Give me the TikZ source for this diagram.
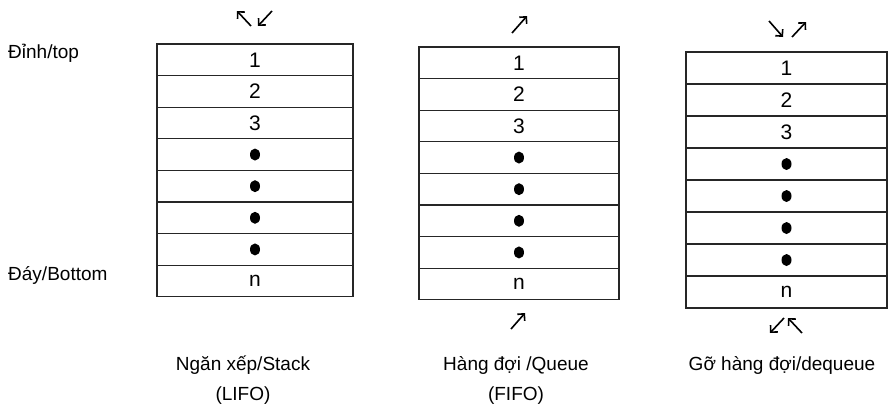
\documentclass[tikz,border=0pt]{standalone}
\usepackage{fontspec}
\setmainfont{Liberation Sans}
\usetikzlibrary{arrows.meta}
\begin{document}
\begin{tikzpicture}[x=1pt,y=-1pt,
  cell/.style={draw=black!85, line width=1.3pt, inner sep=0pt,
    font=\fontsize{21}{24}\selectfont},
  sidelabel/.style={anchor=west, inner sep=0pt, font=\fontsize{19}{22}\selectfont},
  caption/.style={align=center, inner sep=0pt, font=\fontsize{19}{30}\selectfont},
  glyph/.style={line width=1.6pt, -{Straight Barb[angle=90:7pt]}},
  bullet/.style={fill=black}]
\useasboundingbox (0,0) rectangle (889,418);

% three columns of eight cells each: id / centre x / top y / width / row height
\foreach \s/\cx/\top/\w/\h in {1/255/44/196/31.6, 2/519/47/200/31.6, 3/786.5/52/201/32}{
  \foreach \lab [count=\i] in {1,2,3,{},{},{},{},n}{
    \node[cell, minimum width=\w pt, minimum height=\h pt] (s\s r\i)
      at (\cx,{\top+(\i-0.5)*\h}) {\lab};
  }
  \foreach \i in {4,...,7}{
    \fill[bullet] (s\s r\i.center) ellipse [x radius=5pt, y radius=6pt];
  }
}

% side labels
\node[sidelabel] (toplbl) at (8,53) {Đỉnh/top};
\node[sidelabel] (botlbl) at (8,275) {Đáy/Bottom};

% push / pop arrows of the stack
\coordinate (a1s) at (251,26); \coordinate (a1e) at (237,11);
\coordinate (a2s) at (272,11); \coordinate (a2e) at (258,26);
\draw[glyph] (a1s) -- (a1e);
\draw[glyph] (a2s) -- (a2e);

% queue arrows
\coordinate (b1s) at (512,33); \coordinate (b1e) at (527,16);
\coordinate (b2s) at (511,329); \coordinate (b2e) at (525,313);
\draw[glyph] (b1s) -- (b1e);
\draw[glyph] (b2s) -- (b2e);

% dequeue arrows
\coordinate (c1s) at (769,21); \coordinate (c1e) at (783,37);
\coordinate (c2s) at (792,37); \coordinate (c2e) at (806,22);
\coordinate (c3s) at (784,318); \coordinate (c3e) at (770,333);
\coordinate (c4s) at (802,333); \coordinate (c4e) at (788,318);
\draw[glyph] (c1s) -- (c1e);
\draw[glyph] (c2s) -- (c2e);
\draw[glyph] (c3s) -- (c3e);
\draw[glyph] (c4s) -- (c4e);

% captions
\node[caption] (cap1) at (243,380) {Ngăn xếp/Stack\\(LIFO)};
\node[caption] (cap2) at (516,380) {Hàng đợi /Queue\\(FIFO)};
\node[caption] (cap3) at (782,365) {Gỡ hàng đợi/dequeue};
\end{tikzpicture}
\end{document}
